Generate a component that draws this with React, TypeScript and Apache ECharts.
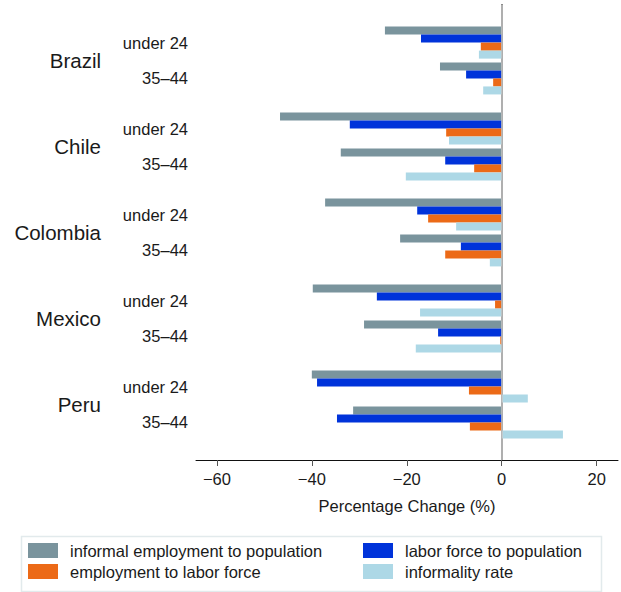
import React, { useEffect, useRef } from "react";
import * as echarts from "echarts";

const countries = ["Brazil", "Chile", "Colombia", "Mexico", "Peru"];
const ageGroups = ["under 24", "35\u201344"];
const seriesNames = [
  "informal employment to population",
  "labor force to population",
  "employment to labor force",
  "informality rate",
];
// order: Brazil u24, Brazil 35-44, Chile u24, Chile 35-44, ...
const informalEmployment = [-24.6, -13.0, -46.7, -33.9, -37.2, -21.4, -39.8, -29.0, -40.0, -31.3];
const laborForce = [-17.0, -7.5, -32.0, -11.9, -17.8, -8.6, -26.3, -13.4, -38.9, -34.7];
const employmentToLabor = [-4.4, -1.8, -11.7, -5.8, -15.5, -11.9, -1.4, -0.3, -6.9, -6.7];
const informalityRate = [-4.8, -3.9, -11.1, -20.2, -9.6, -2.5, -17.2, -18.1, 5.5, 12.9];
const xTicks = [-60, -40, -20, 0, 20];

const colors = ["#7A949D", "#0033DA", "#EC6A17", "#ADD8E6"];
const FONT = "'Liberation Sans', Arial, Helvetica, sans-serif";

// slot layout of the category axis
const SLOTS = 127;
const FIRST = 10;
const AGE_STEP = 10;
const COUNTRY_STEP = 24;

export default function App() {
  const ref = useRef<HTMLDivElement>(null);
  useEffect(() => {
    document.body.style.margin = "0";
    if (!ref.current) return;
    const chart = echarts.init(ref.current, null, { renderer: "svg" });

    const ageLabels: string[] = new Array(SLOTS).fill("");
    const countryLabels: string[] = new Array(SLOTS).fill("");
    const slotIndex: number[] = [];
    countries.forEach((c, ci) => {
      ageGroups.forEach((a, ai) => {
        const idx = FIRST + ci * COUNTRY_STEP + ai * AGE_STEP;
        ageLabels[idx] = a;
        slotIndex.push(idx);
      });
      countryLabels[FIRST + ci * COUNTRY_STEP + AGE_STEP / 2] = c;
    });

    const toSlots = (vals: number[]) => {
      const arr: (number | string)[] = new Array(SLOTS).fill("-");
      vals.forEach((v, i) => {
        arr[slotIndex[i]] = v;
      });
      return arr;
    };
    const allValues = [informalEmployment, laborForce, employmentToLabor, informalityRate];

    const series: any[] = allValues.map((vals, i) => ({
      name: seriesNames[i],
      type: "bar",
      data: toSlots(vals),
      barWidth: 8,
      barGap: "0%",
      itemStyle: { color: colors[i] },
      ...(i === 0
        ? {
            markLine: {
              silent: true,
              symbol: "none",
              label: { show: false },
              lineStyle: { color: "#c8c8c8", width: 1.5, type: "solid" },
              data: [{ xAxis: 0 }],
            },
          }
        : {}),
    }));

    const legendBase = {
      orient: "vertical",
      top: 542,
      height: 48,
      padding: 0,
      icon: "rect",
      itemWidth: 30,
      itemHeight: 15,
      itemGap: 4,
      textStyle: { fontSize: 16.5, color: "#1a1a1a", fontFamily: FONT, padding: [0, 0, 0, 7] },
    };

    chart.setOption({
      animation: false,
      textStyle: { fontFamily: FONT },
      grid: { left: 196, right: 3, top: 5, bottom: 132, containLabel: false },
      xAxis: {
        type: "value",
        min: -64.4,
        max: 24.5,
        splitLine: { show: false },
        axisLine: { show: true, lineStyle: { color: "#111", width: 1 } },
        axisTick: {
          show: true,
          length: 6,
          customValues: xTicks,
          lineStyle: { color: "#555", width: 1 },
        },
        axisLabel: {
          customValues: xTicks,
          fontSize: 16.5,
          color: "#1a1a1a",
          fontFamily: FONT,
          margin: 10,
          formatter: (v: number) => (v < 0 ? "\u2212" + Math.abs(v) : String(v)),
        },
        name: "Percentage Change (%)",
        nameLocation: "middle",
        nameGap: 37,
        nameTextStyle: { fontSize: 16.5, color: "#1a1a1a", fontFamily: FONT },
      },
      yAxis: [
        {
          type: "category",
          data: ageLabels,
          inverse: true,
          axisLine: { show: true, lineStyle: { color: "#666", width: 2 } },
          axisTick: { show: false },
          axisLabel: {
            interval: 0,
            fontSize: 16.5,
            color: "#1a1a1a",
            fontFamily: FONT,
            margin: 8,
          },
        },
        {
          type: "category",
          data: countryLabels,
          inverse: true,
          position: "left",
          offset: 87,
          axisLine: { show: false },
          axisTick: { show: false },
          axisLabel: {
            interval: 0,
            fontSize: 20.5,
            color: "#1a1a1a",
            fontFamily: FONT,
            margin: 8,
          },
        },
      ],
      legend: [
        { ...legendBase, left: 28, data: [seriesNames[0], seriesNames[2]] },
        { ...legendBase, left: 363, data: [seriesNames[1], seriesNames[3]] },
      ],
      graphic: [
        {
          type: "rect",
          left: 19,
          top: 534,
          shape: { width: 580, height: 55 },
          style: { fill: "none", stroke: "#e2eaec", lineWidth: 1.5 },
          silent: true,
        },
      ],
      series,
    });
    return () => chart.dispose();
  }, []);
  return <div ref={ref} style={{ width: 621, height: 592 }} />;
}
